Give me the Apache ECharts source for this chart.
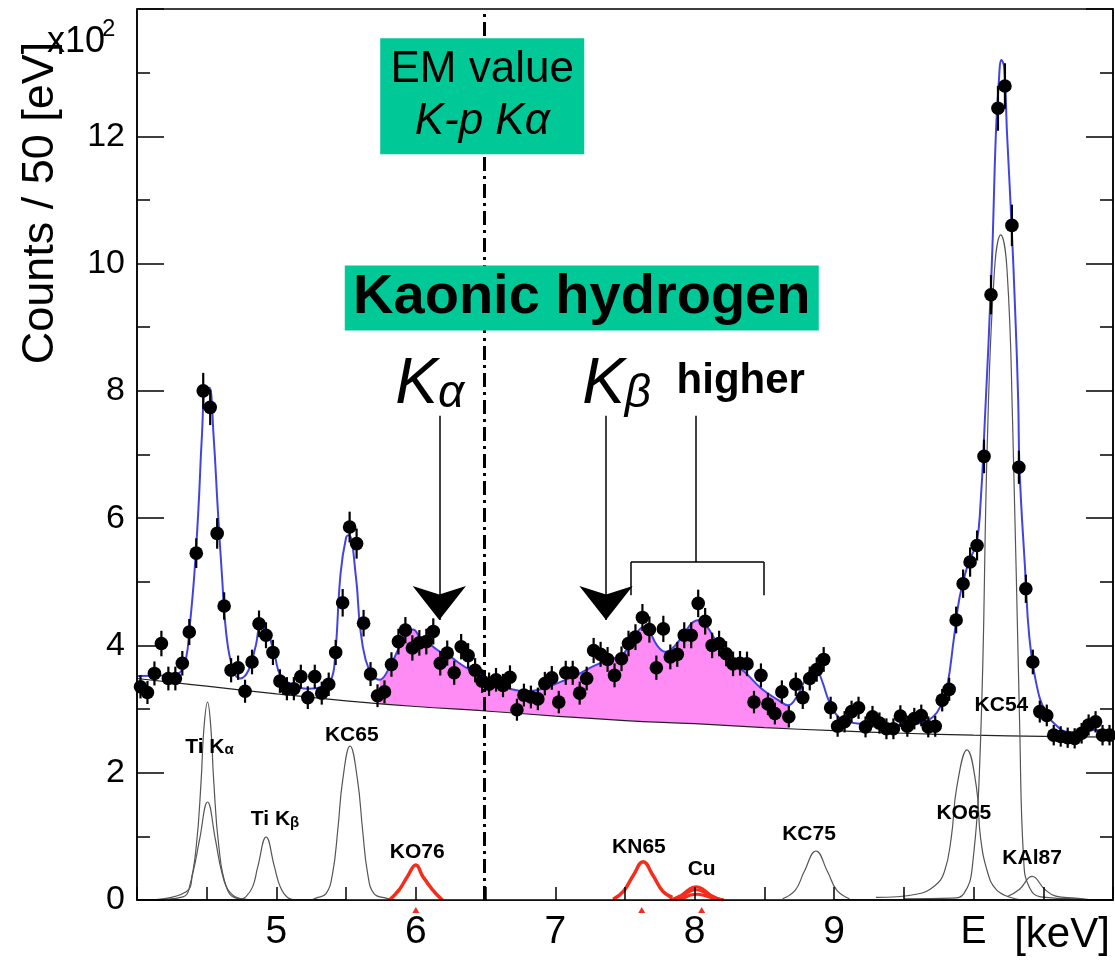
<!DOCTYPE html>
<html><head><meta charset="utf-8">
<script src="https://cdn.jsdelivr.net/npm/echarts@6/dist/echarts.min.js"></script>
<style>html,body{margin:0;padding:0;background:#fff}#c{width:1115px;height:960px}</style>
</head><body><div id="c"></div>
<script>
const FONT = '"Liberation Sans", Arial, Helvetica, sans-serif';

// bin centres (keV), 50 eV bins
const binCenters = [
4.025,4.075,4.125,4.175,4.225,4.275,4.325,4.375,4.425,4.475,
4.525,4.575,4.625,4.675,4.725,4.775,4.825,4.875,4.925,4.975,
5.025,5.075,5.125,5.175,5.225,5.275,5.325,5.375,5.425,5.475,
5.525,5.575,5.625,5.675,5.725,5.775,5.825,5.875,5.925,5.975,
6.025,6.075,6.125,6.175,6.225,6.275,6.325,6.375,6.425,6.475,
6.525,6.575,6.625,6.675,6.725,6.775,6.825,6.875,6.925,6.975,
7.025,7.075,7.125,7.175,7.225,7.275,7.325,7.375,7.425,7.475,
7.525,7.575,7.625,7.675,7.725,7.775,7.825,7.875,7.925,7.975,
8.025,8.075,8.125,8.175,8.225,8.275,8.325,8.375,8.425,8.475,
8.525,8.575,8.625,8.675,8.725,8.775,8.825,8.875,8.925,8.975,
9.025,9.075,9.125,9.175,9.225,9.275,9.325,9.375,9.425,9.475,
9.525,9.575,9.625,9.675,9.725,9.775,9.825,9.875,9.925,9.975,
10.025,10.075,10.125,10.175,10.225,10.275,10.325,10.375,10.425,10.475,
10.525,10.575,10.625,10.675,10.725,10.775,10.825,10.875,10.925,10.975];

// counts (x10^2) per bin
const counts = [
3.35,3.26,3.56,4.03,3.48,3.48,3.72,4.21,5.45,8.00,
7.74,5.76,4.62,3.61,3.65,3.28,3.74,4.34,4.16,3.89,
3.44,3.32,3.32,3.51,3.18,3.51,3.25,3.39,3.89,4.67,
5.86,5.60,4.35,3.55,3.21,3.27,3.70,4.06,4.24,3.96,
4.04,4.06,4.22,3.72,3.88,3.57,3.98,3.84,3.61,3.44,
3.39,3.46,3.37,3.50,2.99,3.22,3.19,3.16,3.40,3.49,
3.11,3.57,3.57,3.25,3.48,3.92,3.86,3.78,3.53,3.79,
4.03,4.13,4.44,4.25,3.65,4.26,3.82,3.86,4.16,4.16,
4.66,4.38,4.00,4.03,3.87,3.71,3.72,3.71,3.11,3.53,
3.08,2.93,3.27,2.88,3.39,3.18,3.48,3.62,3.78,3.02,
2.73,2.80,2.96,3.02,2.72,2.88,2.78,2.69,2.69,2.89,
2.73,2.85,2.90,2.72,2.73,3.14,3.31,4.40,4.97,5.31,
5.57,6.97,9.51,12.44,12.79,10.60,6.80,4.89,3.74,2.96,
2.90,2.59,2.57,2.55,2.54,2.62,2.75,2.80,2.59,2.59];

// total fit (blue)
const fitCurve = [
[4.00,3.52],[4.24,3.53],[4.31,3.58],[4.35,3.77],[4.38,4.34],[4.41,5.08],[4.44,6.12],[4.465,7.27],
[4.49,8.08],[4.505,7.98],[4.52,8.05],[4.55,7.27],[4.58,6.12],[4.61,5.08],[4.64,4.19],[4.69,3.61],
[4.74,3.48],[4.80,3.61],[4.85,3.98],[4.89,4.32],[4.94,4.19],[4.99,3.82],[5.03,3.53],[5.12,3.38],
[5.23,3.32],[5.33,3.35],[5.39,3.45],[5.42,3.80],[5.46,5.13],[5.50,5.70],[5.52,5.73],[5.57,5.08],
[5.60,4.29],[5.64,3.77],[5.69,3.53],[5.74,3.46],[5.80,3.61],[5.87,3.92],[5.93,4.18],[5.98,4.25],
[6.03,4.13],[6.09,4.04],[6.16,3.92],[6.23,3.85],[6.30,3.74],[6.37,3.64],[6.48,3.52],[6.57,3.40],
[6.67,3.32],[6.79,3.28],[6.91,3.32],[7.03,3.42],[7.15,3.53],[7.27,3.67],[7.39,3.78],[7.48,3.85],
[7.54,4.05],[7.59,4.21],[7.63,4.29],[7.67,4.24],[7.73,4.00],[7.79,3.90],[7.86,4.00],[7.93,4.21],
[7.99,4.37],[8.04,4.40],[8.09,4.29],[8.15,4.08],[8.22,3.87],[8.30,3.68],[8.36,3.58],[8.48,3.32],
[8.60,3.14],[8.67,3.06],[8.73,3.19],[8.79,3.45],[8.85,3.64],[8.88,3.61],[8.92,3.40],[8.96,3.14],
[9.01,2.93],[9.08,2.81],[9.20,2.77],[9.44,2.75],[9.63,2.78],[9.71,2.88],[9.76,3.03],[9.81,3.35],
[9.86,4.13],[9.90,4.76],[9.96,5.28],[10.02,5.60],[10.05,6.23],[10.08,7.50],[10.13,9.94],[10.16,12.04],
[10.18,12.82],[10.20,13.20],[10.22,13.08],[10.24,12.04],[10.27,10.73],[10.30,9.16],[10.32,7.85],[10.33,6.75],
[10.37,5.18],[10.40,4.13],[10.45,3.40],[10.51,2.98],[10.58,2.77],[10.68,2.64],[10.78,2.64],[10.87,2.67],[11.00,2.62]];

// continuum background
const background = [[4.0,3.48],[4.5,3.36],[5.0,3.24],[5.5,3.13],[6.0,3.04],[6.5,2.97],[7.0,2.89],[7.5,2.82],
[8.0,2.77],[8.5,2.71],[9.0,2.66],[9.5,2.62],[10.0,2.59],[10.5,2.57],[11.0,2.56]];

// background components (grey)
const tiKa1 = [[4.09,0],[4.33,0.05],[4.377,0.21],[4.425,0.84],[4.46,1.88],[4.48,2.70],[4.506,3.11],[4.53,2.70],[4.55,1.88],[4.587,0.84],[4.64,0.21],[4.71,0.03],[4.88,0]];
const tiKa2 = [[4.09,0],[4.353,0.13],[4.40,0.42],[4.448,0.94],[4.506,1.54],[4.563,0.94],[4.61,0.42],[4.663,0.13],[4.75,0.02],[4.88,0]];
const tiKb  = [[4.73,0],[4.78,0.05],[4.83,0.21],[4.866,0.52],[4.926,0.99],[4.986,0.52],[5.027,0.21],[5.08,0.04],[5.15,0]];
const kc65  = [[5.25,0],[5.284,0.03],[5.356,0.10],[5.403,0.42],[5.44,1.10],[5.475,1.88],[5.528,2.42],[5.582,1.88],[5.618,1.10],[5.654,0.42],[5.70,0.10],[5.786,0.03],[5.85,0]];
const kc75  = [[8.63,0.02],[8.72,0.15],[8.784,0.44],[8.869,0.77],[8.954,0.44],[9.02,0.15],[9.11,0.02]];
const ko65  = [[9.30,0.04],[9.59,0.09],[9.72,0.22],[9.79,0.44],[9.84,0.98],[9.88,1.78],[9.953,2.36],[10.02,1.78],[10.05,0.98],[10.10,0.44],[10.16,0.17],[10.25,0.05],[10.35,0]];
const kc54  = [[9.50,0.02],[9.85,0.03],[9.93,0.10],[9.99,0.50],[10.05,2.50],[10.10,7.30],[10.15,9.90],[10.195,10.45],[10.24,9.90],[10.28,7.50],[10.33,2.80],[10.36,0.60],[10.40,0.20],[10.48,0.05],[10.75,0.02]];
const kal87 = [[10.24,0.05],[10.33,0.17],[10.42,0.37],[10.51,0.17],[10.59,0.06],[10.73,0.03],[10.85,0]];

// kaonic-hydrogen region lines (red)
const ko76 = [[5.81,0],[5.88,0.16],[5.94,0.37],[6.0,0.55],[6.05,0.37],[6.12,0.16],[6.19,0]];
const kn65 = [[7.415,0.01],[7.49,0.14],[7.56,0.39],[7.63,0.60],[7.70,0.39],[7.77,0.14],[7.84,0.04]];
const cu1  = [[7.82,0],[7.90,0.07],[7.96,0.17],[8.01,0.21],[8.06,0.17],[8.12,0.07],[8.20,0]];
const cu2  = [[7.84,0],[7.91,0.05],[7.96,0.13],[8.01,0.16],[8.06,0.13],[8.12,0.05],[8.20,0]];
const cu3  = [[7.86,0],[7.93,0.04],[7.97,0.08],[8.02,0.09],[8.07,0.07],[8.13,0.03],[8.21,0]];
const redMarks = [6.0, 7.62, 8.05];

const emValue = 6.49;
const signalRange = [5.74, 8.67];
const xTickLabels = {5:'5',6:'6',7:'7',8:'8',9:'9',10:'E'};

const peakLabels = [
  ['{m|Ti K}{s|α}', 4.52, 2.43], ['{m|Ti K}{s|β}', 4.99, 1.29], ['{m|KC65}', 5.54, 2.62],
  ['{m|KO76}', 6.01, 0.78], ['{m|KN65}', 7.60, 0.86], ['{m|Cu}', 8.05, 0.50],
  ['{m|KC75}', 8.82, 1.05], ['{m|KO65}', 9.93, 1.38], ['{m|KC54}', 10.20, 3.09], ['{m|KAl87}', 10.42, 0.68]];

const chart = echarts.init(document.getElementById('c'));

function curve(data, color, width, z, name) {
  return {type:'line', name, data, smooth:0.45, symbol:'none', showSymbol:false, silent:true,
    lineStyle:{color, width}, z, animation:false};
}

const pink = fitCurve.filter(p => p[0] >= signalRange[0] && p[0] <= signalRange[1]);
const cover = background.filter(p => p[0] >= 5.5 && p[0] <= 9.0);

const labelRich = {
  m:{fontFamily:FONT, fontWeight:'bold', fontSize:21, color:'#000', lineHeight:24, verticalAlign:'bottom'},
  s:{fontFamily:FONT, fontWeight:'bold', fontSize:15, color:'#000', lineHeight:20, verticalAlign:'bottom'}
};
const kRich = {
  k:{fontFamily:FONT, fontStyle:'italic', fontSize:64, color:'#000', verticalAlign:'bottom', lineHeight:68},
  a:{fontFamily:FONT, fontStyle:'italic', fontSize:46, color:'#000', verticalAlign:'bottom', lineHeight:60}
};

const option = {
  animation:false,
  backgroundColor:'#fff',
  grid:{left:137, right:2, top:9, bottom:60, show:true, borderColor:'#000', borderWidth:1.5,
        backgroundColor:'transparent', containLabel:false, outerBoundsMode:'none'},
  xAxis:[{type:'value', min:4, max:11, interval:0.5, z:10,
    axisLine:{show:true, onZero:false, lineStyle:{color:'#000', width:1.5}},
    axisTick:{inside:true, length:13, lineStyle:{color:'#000', width:1.5}},
    axisLabel:{formatter:v => xTickLabels[v] || '', fontSize:39, color:'#000', margin:13, fontFamily:FONT},
    splitLine:{show:false}}],
  yAxis:[
    {type:'value', min:0, max:14, interval:2, position:'left', z:10,
     axisLine:{show:true, lineStyle:{color:'#000', width:1.5}},
     axisTick:{inside:true, length:27, lineStyle:{color:'#000', width:1.5}},
     minorTick:{show:true, splitNumber:2, length:13, lineStyle:{color:'#000', width:1.5}},
     axisLabel:{fontSize:34, color:'#000', margin:12, fontFamily:FONT, showMaxLabel:false},
     splitLine:{show:false}},
    {type:'value', min:0, max:14, interval:2, position:'right', z:10,
     axisLine:{show:true, lineStyle:{color:'#000', width:1.5}},
     axisTick:{inside:true, length:27, lineStyle:{color:'#000', width:1.5}},
     minorTick:{show:true, splitNumber:2, length:13, lineStyle:{color:'#000', width:1.5}},
     axisLabel:{show:false}, splitLine:{show:false}}],
  graphic:[
    {type:'text', x:41, y:203, rotation:Math.PI/2, style:{text:'Counts / 50 [eV]', font:'45px '+FONT, fill:'#000', align:'center', verticalAlign:'middle'}},
    {type:'text', x:47, y:24, style:{text:'x10', font:'36px '+FONT, fill:'#000'}},
    {type:'text', x:102, y:17, style:{text:'2', font:'24px '+FONT, fill:'#000'}},
    {type:'text', x:1062, y:935, style:{text:'[keV]', font:'42px '+FONT, fill:'#000', align:'center', verticalAlign:'middle'}}
  ],
  series:[
    {type:'line', data:pink, smooth:0.45, symbol:'none', silent:true, z:1, lineStyle:{width:0},
     areaStyle:{color:'#ff8cf5', opacity:1}},
    {type:'line', data:cover, smooth:0.45, symbol:'none', silent:true, z:2, lineStyle:{width:0},
     areaStyle:{color:'#fff', opacity:1}},
    curve(background, '#222', 1.2, 3, 'bg'),
    curve(tiKa1, '#555', 1.2, 3), curve(tiKa2, '#555', 1.2, 3), curve(tiKb, '#555', 1.2, 3),
    curve(kc65, '#555', 1.2, 3), curve(kc75, '#555', 1.2, 3), curve(ko65, '#555', 1.2, 3),
    curve(kc54, '#555', 1.2, 3), curve(kal87, '#555', 1.2, 3),
    curve(ko76, '#f52c1c', 3.5, 3), curve(kn65, '#f52c1c', 3.5, 3),
    curve(cu1, '#f52c1c', 3, 3), curve(cu2, '#f52c1c', 3, 3), curve(cu3, '#f52c1c', 3, 3),
    curve(fitCurve, '#4343e0', 2, 4, 'fit'),
    {type:'custom', z:5, silent:true,
     data: binCenters.map((e,i) => [e, counts[i], Math.sqrt(counts[i]*100)/100]),
     renderItem:(params, api) => {
       const x = api.value(0), y = api.value(1), err = api.value(2);
       const p = api.coord([x,y]), t = api.coord([x,y+err]), b = api.coord([x,y-err]);
       return {type:'group', children:[
         {type:'line', shape:{x1:p[0], y1:t[1], x2:p[0], y2:b[1]}, style:{stroke:'#000', lineWidth:2.2}},
         {type:'circle', shape:{cx:p[0], cy:p[1], r:6.8}, style:{fill:'#000'}}]};
     }},
    {type:'scatter', z:6, silent:true, symbol:'triangle', symbolSize:[7,6], symbolOffset:[0,10],
     itemStyle:{color:'#f52c1c', opacity:1}, data: redMarks.map(e => [e, 0]), clip:false},
    {type:'line', data:[], z:7, silent:true,
     markLine:{silent:true, symbol:'none', label:{show:false},
       lineStyle:{color:'#000', width:3, type:[14,5,3,5]}, data:[{xAxis:emValue}]}},
    {type:'line', data:[], z:6, silent:true,
     markLine:{silent:true, label:{show:false}, lineStyle:{color:'#000', width:1.5, type:'solid'},
       symbol:'none',
       data:[
         [{coord:[6.168,7.61], symbol:'none'},{coord:[6.168,4.40], symbol:'arrow', symbolSize:[40,34]}],
         [{coord:[7.364,7.61], symbol:'none'},{coord:[7.364,4.40], symbol:'arrow', symbolSize:[40,34]}],
         [{coord:[8.009,7.61]},{coord:[8.009,5.31]}],
         [{coord:[7.543,5.31]},{coord:[8.496,5.31]}],
         [{coord:[7.543,5.31]},{coord:[7.543,4.79]}],
         [{coord:[8.496,5.31]},{coord:[8.496,4.79]}]
       ]}},
    {type:'scatter', z:8, silent:true, symbolSize:0, clip:false, itemStyle:{opacity:1},
     label:{show:true, position:'inside', rich:labelRich},
     data: peakLabels.map(l => ({value:[l[1], l[2]], label:{formatter:l[0]}}))},
    {type:'scatter', z:6, silent:true, symbolSize:0, clip:false, itemStyle:{opacity:1},
     data:[
       {value:[6.10, 8.12], label:{show:true, position:'inside', formatter:'{k|K}{a|α}', rich:kRich}},
       {value:[7.44, 8.12], label:{show:true, position:'inside', formatter:'{k|K}{a|β}', rich:kRich}},
       {value:[8.33, 8.15], label:{show:true, position:'inside', formatter:'higher',
         fontFamily:FONT, fontWeight:'bold', fontSize:42, color:'#000'}},
       {value:[7.19, 9.46], label:{show:true, position:'inside', formatter:'Kaonic hydrogen',
         fontFamily:FONT, fontWeight:'bold', fontSize:56, color:'#000', backgroundColor:'#00c896',
         width:474, align:'center', lineHeight:57, padding:[4,0,4,0], overflow:'none'}},
       {value:[6.476, 12.63], label:{show:true, position:'inside', formatter:'{a|EM value}\n{b|K-p Kα}',
         backgroundColor:'#00c896', width:204, align:'center', padding:[6,0,6,0],
         rich:{a:{fontFamily:FONT, fontSize:44, color:'#000', lineHeight:52, align:'center'},
               b:{fontFamily:FONT, fontStyle:'italic', fontSize:44, color:'#000', lineHeight:52, align:'center'}}}}
     ]}
  ]
};
chart.setOption(option);
</script></body></html>
